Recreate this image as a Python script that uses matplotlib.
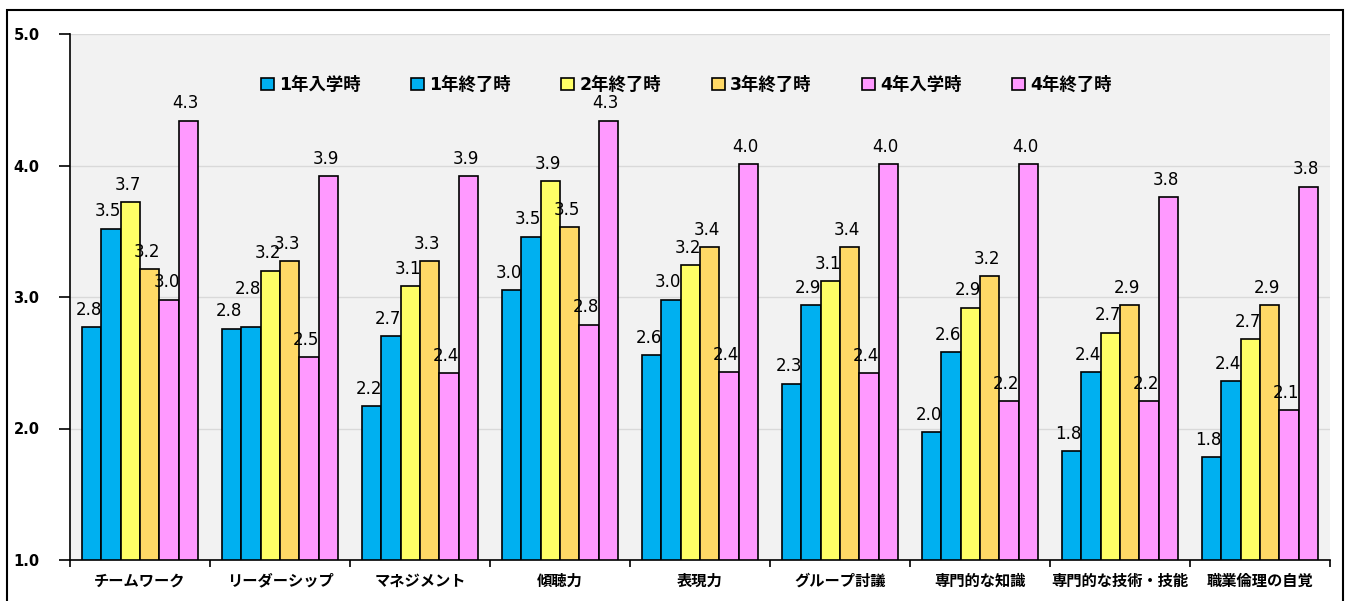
import matplotlib.pyplot as plt
import matplotlib.patches as mpatches
import numpy as np

plt.rcParams["font.family"] = ["DejaVu Sans", "Noto Sans CJK JP"]

# Data
categories = ["チームワーク", "リーダーシップ", "マネジメント", "傾聴力", "表現力",
              "グループ討議", "専門的な知識", "専門的な技術・技能", "職業倫理の自覚"]
series = ["1年入学時", "1年終了時", "2年終了時", "3年終了時", "4年入学時", "4年終了時"]
y1_start = [2.77, 2.76, 2.17, 3.05, 2.56, 2.34, 1.97, 1.83, 1.78]
y1_end = [3.52, 2.77, 2.70, 3.46, 2.98, 2.94, 2.58, 2.43, 2.36]
y2_end = [3.72, 3.20, 3.08, 3.88, 3.24, 3.12, 2.92, 2.73, 2.68]
y3_end = [3.21, 3.27, 3.27, 3.53, 3.38, 3.38, 3.16, 2.94, 2.94]
y4_start = [2.98, 2.54, 2.42, 2.79, 2.43, 2.42, 2.21, 2.21, 2.14]
y4_end = [4.34, 3.92, 3.92, 4.34, 4.01, 4.01, 4.01, 3.76, 3.84]
values = [y1_start, y1_end, y2_end, y3_end, y4_start, y4_end]
colors = ["#00B0F0", "#00B0F0", "#FFFF66", "#FFD966", "#FF99FF", "#FF99FF"]

# labels nudged up where they would collide (series index, category index)
raised = {(1, 1): 15}

fig = plt.figure(figsize=(13.51, 6.01), dpi=100)
ax = fig.add_axes([70 / 1351, 1 - 560 / 601, 1260 / 1351, 526 / 601])
ax.set_facecolor("#F2F2F2")

# outer frame
fig.patches.append(mpatches.Rectangle((7 / 1351, -0.02), 1336 / 1351, 1 - 10 / 601 + 0.02,
                                      transform=fig.transFigure, fill=False,
                                      edgecolor="black", linewidth=1.5))

x = np.arange(len(categories))
width = 0.139
for i, (vals, c, name) in enumerate(zip(values, colors, series)):
    pos = x + (i - 2.5) * width
    ax.bar(pos, np.array(vals) - 1.0, width, bottom=1.0, color=c, edgecolor="black",
           linewidth=1.2, label=name, zorder=3)
    for j, (px, v) in enumerate(zip(pos, vals)):
        ax.annotate(f"{v:.1f}", (px, v), xytext=(-2, 6 + raised.get((i, j), 0)),
                    textcoords="offset points", ha="center", va="bottom",
                    fontsize=12, zorder=4)

ax.set_xlim(-0.5, len(categories) - 0.5)
ax.set_ylim(1.0, 5.0)
ax.set_yticks([1.0, 2.0, 3.0, 4.0, 5.0])
ax.set_yticklabels(["1.0", "2.0", "3.0", "4.0", "5.0"], fontweight="bold", fontsize=10.5)
ax.set_xticks(x)
ax.set_xticklabels(categories, fontsize=11, family=["Noto Sans CJK JP"], fontweight="bold")
ax.set_xticks(np.arange(-0.5, len(categories), 1.0), minor=True)
ax.tick_params(axis="x", which="major", length=0, pad=9)
ax.tick_params(axis="x", which="minor", length=5, width=1.2, direction="out")
ax.tick_params(axis="y", length=8, width=1.2, direction="out", pad=14)

ax.grid(axis="y", color="#D9D9D9", linewidth=1, zorder=0)
ax.spines["top"].set_visible(False)
ax.spines["right"].set_visible(False)
ax.spines["left"].set_linewidth(1.2)
ax.spines["bottom"].set_linewidth(1.2)

leg = ax.legend(loc="center", bbox_to_anchor=(0.489, 0.903), ncol=6, frameon=False,
                handlelength=0.75, handleheight=0.75, handletextpad=0.3, columnspacing=2.9,
                prop={"family": ["DejaVu Sans", "Noto Sans CJK JP"], "weight": "bold", "size": 12.5})

plt.savefig("out.png", dpi=100)
